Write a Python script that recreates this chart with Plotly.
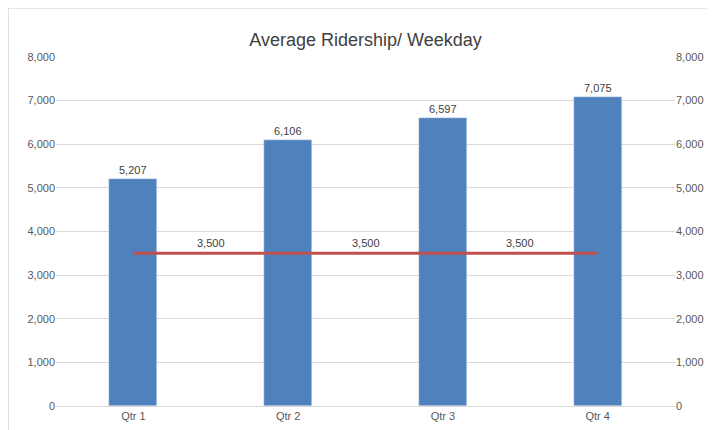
import plotly.graph_objects as go

quarters = ["Qtr 1", "Qtr 2", "Qtr 3", "Qtr 4"]
ridership = [5207, 6106, 6597, 7075]
target = [3500, 3500, 3500, 3500]
target_labels = ["3,500", "3,500", "3,500"]

x = list(range(len(quarters)))
font = "Liberation Sans, Arial, sans-serif"

fig = go.Figure()
fig.add_trace(go.Bar(x=x, y=ridership, width=0.31, marker_color="#4F81BD",
                     text=[f"{v:,}" for v in ridership], textposition="outside",
                     textfont=dict(size=11, color="#404040"), cliponaxis=False))
fig.add_trace(go.Scatter(x=x, y=target, mode="lines",
                         line=dict(color="#C0504D", width=3), yaxis="y2"))

for i, lab in enumerate(target_labels):
    fig.add_annotation(x=i + 0.5, y=target[i], text=lab, showarrow=False,
                       yshift=10, font=dict(size=11, color="#404040"))

axis_font = dict(size=11, color="#595959", family=font)
fig.update_layout(
    width=715, height=430,
    margin=dict(l=48, r=48, t=49, b=32),
    paper_bgcolor="white", plot_bgcolor="white",
    showlegend=False,
    font=dict(family=font),
    title=dict(text="Average Ridership/ Weekday", x=0.5, y=0.94, xanchor="center",
               font=dict(size=18, color="#404040", family=font)),
    xaxis=dict(tickvals=x, ticktext=quarters, range=[-0.5, 3.5], showgrid=False,
               showline=True, linecolor="#D9D9D9", ticks="", tickfont=axis_font),
    yaxis=dict(range=[0, 8000], dtick=1000, tickformat=",", gridcolor="#D9D9D9",
               zeroline=False, tickfont=axis_font),
    yaxis2=dict(range=[0, 8000], dtick=1000, tickformat=",", overlaying="y",
                side="right", showgrid=False, zeroline=False, tickfont=axis_font),
    bargap=0,
)
fig.add_shape(type="rect", xref="paper", yref="paper", x0=-0.077, x1=1.077,
              y0=-0.088, y1=1.14, line=dict(color="#D9D9D9", width=1))
fig.write_html("out.html")
